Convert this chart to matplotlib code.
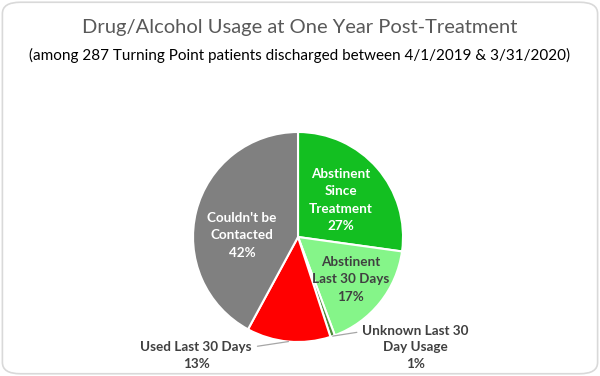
import numpy as np
import matplotlib.pyplot as plt
from matplotlib.patches import FancyBboxPatch

categories = ['Abstinent\nSince\nTreatment', 'Abstinent\nLast 30 Days',
              'Unknown Last 30\nDay Usage', 'Used Last 30 Days', "Couldn't be\nContacted"]
values = [27.2, 17.1, 0.7, 12.9, 42.1]
pct_labels = ['27%', '17%', '1%', '13%', '42%']
colors = ['#13bf21', '#85f589', '#4e8a3a', '#ff0000', '#808080']
text_colors = ['white', '#404040', '#404040', '#404040', 'white']

plt.rcParams['font.family'] = ['Lato', 'DejaVu Sans']

fig = plt.figure(figsize=(6, 3.76), dpi=100)
fig.patch.set_facecolor('white')
fig.patches.append(FancyBboxPatch((0.004, 0.006), 0.992, 0.988,
                                  boxstyle='round,pad=0,rounding_size=0.03',
                                  transform=fig.transFigure, facecolor='none',
                                  edgecolor='#d9d9d9', linewidth=1.2))

fig.text(0.5, 0.927, 'Drug/Alcohol Usage at One Year Post-Treatment',
         ha='center', va='center', fontsize=14.5, color='#595959')
fig.text(0.5, 0.853, '(among 287 Turning Point patients discharged between 4/1/2019 & 3/31/2020)',
         ha='center', va='center', fontsize=11, color='black')

ax = fig.add_axes([0.4967 - 0.175, 0.3697 - 0.2793, 0.35, 0.5586])
wedges, _ = ax.pie(values, colors=colors, startangle=90, counterclock=False,
                   wedgeprops=dict(edgecolor='white', linewidth=1.5))
ax.set_xlim(-1, 1)
ax.set_ylim(-1, 1)
ax.set_aspect('equal')
ax.axis('off')

# inside labels: radius factor per wedge
inside = {0: 0.54, 1: 0.64, 4: 0.55}
for i, w in enumerate(wedges):
    mid = np.deg2rad((w.theta1 + w.theta2) / 2)
    txt = categories[i] + '\n' + pct_labels[i]
    if i in inside:
        r = inside[i]
        dy = -0.12 if i == 4 else 0
        ax.text(r * np.cos(mid), r * np.sin(mid) + dy, txt, ha='center', va='center',
                fontsize=9.7, fontweight='bold', color=text_colors[i], linespacing=1.55)

# outside labels with leader lines
for i, pos, rel in [(3, (-0.97, -1.13), (1.0, 0.8)), (2, (1.12, -1.05), (0.0, 0.85))]:
    w = wedges[i]
    mid = np.deg2rad((w.theta1 + w.theta2) / 2)
    ax.annotate(categories[i] + '\n' + pct_labels[i],
                xy=(np.cos(mid), np.sin(mid)), xytext=pos,
                ha='center', va='center', fontsize=9.7, fontweight='bold',
                color=text_colors[i], linespacing=1.45, annotation_clip=False,
                arrowprops=dict(arrowstyle='-', color='#a6a6a6', lw=0.9,
                                relpos=rel, shrinkA=2, shrinkB=0))

fig.savefig('out.png', dpi=100)
